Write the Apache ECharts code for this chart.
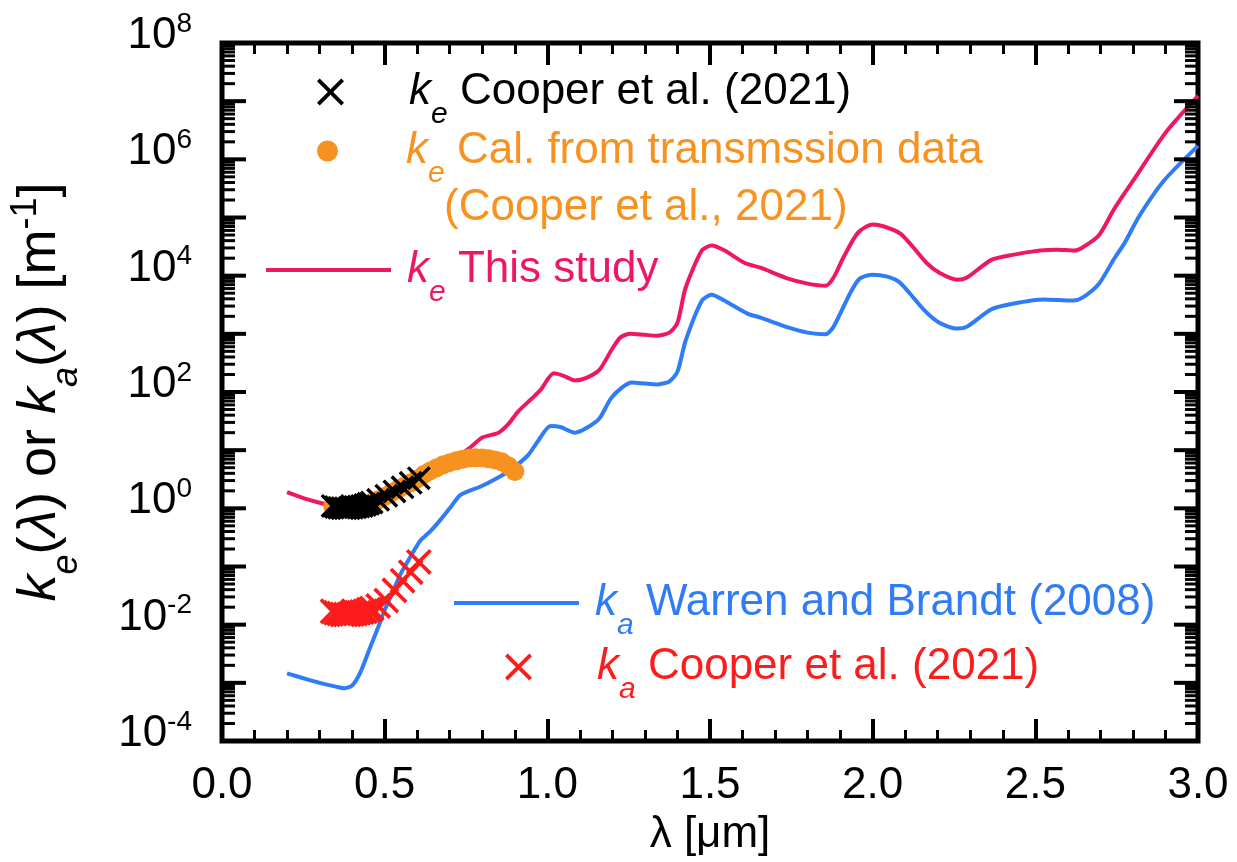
<!DOCTYPE html>
<html><head><meta charset="utf-8">
<script src="https://cdn.jsdelivr.net/npm/echarts@6/dist/echarts.min.js"></script>
<style>html,body{margin:0;padding:0;background:#fff}#c{width:1237px;height:862px}</style>
</head><body><div id="c"></div>
<script>
const FONT = '"Liberation Sans", Arial, Helvetica, sans-serif';

// k_e This study (pink line): wavelength [um], value [m^-1]
const keThisLambda = [0.20,0.25,0.30,0.35,0.40,0.45,0.50,0.55,0.60,0.65,0.70,0.75,0.77,0.80,0.85,0.88,0.91,0.95,0.98,1.02,1.05,1.085,1.12,1.16,1.20,1.225,1.255,1.30,1.335,1.375,1.40,1.425,1.475,1.505,1.545,1.605,1.655,1.74,1.80,1.855,1.88,1.91,1.955,2.00,2.035,2.085,2.12,2.165,2.205,2.26,2.29,2.365,2.43,2.515,2.565,2.62,2.645,2.695,2.74,2.775,2.80,2.90,3.00];
const keThisValue  = [1.9,1.5,1.25,1.08,1.02,1.12,1.45,2.0,2.9,4.2,6.3,9.8,12,16.5,20,28,46,75,110,210,190,158,175,240,560,870,1000,960,930,1050,1550,6200,27000,33000,27000,16700,13700,8900,7300,6700,9300,20500,55000,76000,70000,53000,33000,16700,11200,8500,9300,18700,22800,27000,28000,27000,30500,49000,133000,265000,425000,2.85e6,1.23e7];

// k_a Warren and Brandt (2008) (blue line)
const kaWBLambda = [0.20,0.25,0.30,0.35,0.375,0.40,0.425,0.455,0.48,0.50,0.525,0.547,0.58,0.61,0.64,0.67,0.70,0.73,0.76,0.79,0.845,0.885,0.94,0.97,1.01,1.04,1.085,1.12,1.16,1.195,1.23,1.26,1.30,1.335,1.375,1.40,1.425,1.475,1.505,1.545,1.615,1.655,1.74,1.80,1.855,1.88,1.93,1.96,2.00,2.045,2.085,2.16,2.205,2.26,2.29,2.365,2.43,2.525,2.615,2.645,2.695,2.74,2.775,2.82,2.895,3.00];
const kaWBValue  = [1.45e-3,1.2e-3,1.0e-3,8.6e-4,8.1e-4,9.0e-4,1.5e-3,4.0e-3,9.0e-3,0.0178,0.036,0.071,0.15,0.28,0.40,0.62,1.0,1.65,2.0,2.3,3.3,4.5,8.1,14,26,25,20,24,35,77,120,146,140,135,152,224,760,3700,4700,3700,2230,1900,1290,1050,980,1330,4900,8900,10400,9600,7500,2500,1550,1230,1330,2650,3300,3900,3730,4200,7200,18600,37000,107000,427000,1.7e6];

// k_e Cooper et al. (2021) (black crosses)
const keCooperLambda = [0.34,0.35,0.36,0.37,0.38,0.39,0.40,0.41,0.42,0.43,0.44,0.45,0.46,0.48,0.505,0.53,0.555,0.58,0.605];
const keCooperValue  = [1.1,1.05,1.02,1.0,1.0,1.0,1.02,1.04,1.07,1.1,1.14,1.2,1.26,1.4,1.65,1.95,2.3,2.75,3.3];

// k_e calculated from transmission data (orange dots)
const keCalLambda = [0.34,0.36,0.38,0.40,0.42,0.44,0.46,0.48,0.50,0.52,0.54,0.56,0.58,0.60,0.62,0.64,0.66,0.68,0.70,0.72,0.74,0.76,0.78,0.80,0.82,0.84,0.86,0.88,0.90];
const keCalValue  = [1.1,1.05,1.0,1.02,1.07,1.14,1.26,1.4,1.6,1.85,2.1,2.4,2.75,3.2,3.8,4.4,5.0,5.6,6.1,6.6,7.0,7.3,7.4,7.3,7.1,6.8,6.3,5.4,4.3];

// k_a Cooper et al. (2021) (red crosses)
const kaCooperLambda = [0.34,0.35,0.36,0.37,0.38,0.39,0.40,0.41,0.42,0.43,0.44,0.45,0.46,0.48,0.505,0.53,0.555,0.58,0.605];
const kaCooperValue  = [0.017,0.016,0.0155,0.015,0.015,0.015,0.0152,0.0155,0.016,0.0165,0.017,0.018,0.019,0.021,0.026,0.039,0.057,0.08,0.12];

// axis ticks
const yLabelExponents = [-4,-2,0,2,4,6,8];
const yDecadeExponents = [-4,-3,-2,-1,0,1,2,3,4,5,6,7,8];
const yMinorMantissas = [2,3,4,5,6,7,8,9];

const C_PINK = '#ee1766', C_BLUE = '#2f7cf6', C_ORANGE = '#f7911f', C_RED = '#fc1c1c';
const CROSS = 'path://M2,0L10,8L18,0L20,2L12,10L20,18L18,20L10,12L2,20L0,18L8,10L0,2Z';

const zip = (a, b) => a.map((v, i) => [v, b[i]]);

const yTickData = [];
yDecadeExponents.forEach(e => {
  yTickData.push([0, Math.pow(10, e), 1]);
  if (e < 8) yMinorMantissas.forEach(m => yTickData.push([0, m * Math.pow(10, e), 0]));
});
const yLabelData = yLabelExponents.map(e => [0, Math.pow(10, e), e]);

const legendRich = {
  k: {fontFamily: FONT, fontSize: 44, fontStyle: 'italic', lineHeight: 50, padding: [0, 0, 0, 11]},
  s: {fontFamily: FONT, fontSize: 30, fontStyle: 'italic', lineHeight: 30, verticalAlign: 'bottom', padding: [0, 0, -13, 0]},
  t: {fontFamily: FONT, fontSize: 44, lineHeight: 50}
};
function mkLegend(name, left, top, color, text, ih, icon) {
  const l = {
    data: [name], left: left, top: top, padding: 0, itemWidth: 125, itemHeight: ih,
    selectedMode: false, orient: 'vertical',
    formatter: () => text,
    textStyle: {color: color, fontFamily: FONT, fontSize: 44, lineHeight: 50, rich: legendRich}
  };
  if (icon) l.icon = icon;
  return l;
}

const chart = echarts.init(document.getElementById('c'), null, {renderer: 'canvas'});
const xAxisBase = {
  type: 'value', min: 0, max: 3, interval: 0.5,
  axisLine: {show: false},
  axisTick: {show: true, inside: true, length: 22, lineStyle: {color: '#000', width: 4}},
  minorTick: {show: true, splitNumber: 5, length: 11, lineStyle: {color: '#000', width: 3}},
  splitLine: {show: false}, minorSplitLine: {show: false}
};
chart.setOption({
  animation: false,
  grid: {left: 222, right: 39, top: 43, bottom: 121, show: true, borderColor: '#000', borderWidth: 5, backgroundColor: 'transparent'},
  xAxis: [
    Object.assign({}, xAxisBase, {
      position: 'bottom',
      axisLabel: {show: true, fontSize: 44, fontFamily: FONT, color: '#000', margin: 23, formatter: v => v.toFixed(1)},
      name: 'λ [μm]', nameLocation: 'middle', nameGap: 64,
      nameTextStyle: {fontSize: 44, fontFamily: FONT, color: '#000'}
    }),
    Object.assign({}, xAxisBase, {position: 'top', axisLabel: {show: false}})
  ],
  yAxis: {
    type: 'log', logBase: 10, min: 1e-4, max: 1e8,
    axisLine: {show: false}, axisTick: {show: false}, axisLabel: {show: false}, splitLine: {show: false},
    name: '{k|k}{s|e}{t|(}{l|λ}{t|) or }{k|k}{s|a}{t|(}{l|λ}{t|) [m}{p|-1}{t|]}',
    nameLocation: 'middle', nameRotate: 90, nameGap: 152,
    nameTextStyle: {fontSize: 54, fontFamily: FONT, color: '#000', rich: {
      k: {fontFamily: FONT, fontSize: 54, fontStyle: 'italic', lineHeight: 60},
      l: {fontFamily: FONT, fontSize: 54, fontStyle: 'italic', lineHeight: 60},
      t: {fontFamily: FONT, fontSize: 54, lineHeight: 60},
      s: {fontFamily: FONT, fontSize: 36, fontStyle: 'italic', lineHeight: 36, verticalAlign: 'bottom', padding: [0, 0, -15, 0]},
      p: {fontFamily: FONT, fontSize: 36, lineHeight: 36, verticalAlign: 'top', padding: [-2, 0, 0, 0]}
    }}
  },
  legend: [
    mkLegend('keCooper', 317, 67, '#000', '{k|k}{s|e}{t| Cooper et al. (2021)}', 27),
    mkLegend('keCal', 317, 126, C_ORANGE, '{k|k}{s|e}{t| Cal. from transmssion data}', 21),
    mkLegend('keThis', 266, 245, C_PINK, '{k|k}{s|e}{t| This study}', 4, 'rect'),
    mkLegend('kaWB', 454, 578, C_BLUE, '{k|k}{s|a}{t| Warren and Brandt (2008)}', 4, 'rect'),
    mkLegend('kaCooper', 505, 642, C_RED, '{k|k}{s|a}{t| Cooper et al. (2021)}', 27)
  ],
  graphic: [{
    type: 'text', left: 444, top: 186,
    style: {text: '(Cooper et al., 2021)', font: '44px ' + FONT, fill: C_ORANGE}
  }],
  series: [
    {name: 'keThis', type: 'line', data: zip(keThisLambda, keThisValue), symbol: 'none', smooth: 0.25,
     lineStyle: {color: C_PINK, width: 4}, itemStyle: {color: C_PINK}, z: 2},
    {name: 'kaWB', type: 'line', data: zip(kaWBLambda, kaWBValue), symbol: 'none', smooth: 0.25,
     lineStyle: {color: C_BLUE, width: 4}, itemStyle: {color: C_BLUE}, z: 2},
    {name: 'keCal', type: 'scatter', data: zip(keCalLambda, keCalValue), symbol: 'circle', symbolSize: 19,
     itemStyle: {color: C_ORANGE, opacity: 1}, z: 3},
    {name: 'keCooper', type: 'scatter', data: zip(keCooperLambda, keCooperValue), symbol: CROSS, symbolSize: 24,
     itemStyle: {color: '#000', opacity: 1}, z: 4},
    {name: 'kaCooper', type: 'scatter', data: zip(kaCooperLambda, kaCooperValue), symbol: CROSS, symbolSize: 26,
     itemStyle: {color: C_RED, opacity: 1}, z: 4},
    {name: 'yTicks', type: 'custom', data: yTickData, silent: true, z: 5,
     renderItem: function (params, api) {
       const v = api.value(1), major = api.value(2) === 1;
       const pL = api.coord([0, v]), pR = api.coord([3, v]);
       const len = major ? 24 : 13, lw = major ? 4 : 3;
       return {type: 'group', children: [
         {type: 'line', shape: {x1: pL[0], y1: pL[1], x2: pL[0] + len, y2: pL[1]}, style: {stroke: '#000', lineWidth: lw}},
         {type: 'line', shape: {x1: pR[0] - len, y1: pR[1], x2: pR[0], y2: pR[1]}, style: {stroke: '#000', lineWidth: lw}}
       ]};
     }},
    {name: 'yLabels', type: 'custom', data: yLabelData, silent: true, z: 5,
     renderItem: function (params, api) {
       const v = api.value(1), e = api.value(2);
       const p = api.coord([0, v]);
       return {type: 'text', x: p[0] - 30, y: p[1] - 7, style: {
         text: '{b|10}{s|' + e + '}', align: 'right', verticalAlign: 'middle', fill: '#000',
         rich: {
           b: {fontFamily: FONT, fontSize: 44, lineHeight: 44, fill: '#000'},
           s: {fontFamily: FONT, fontSize: 28, lineHeight: 28, verticalAlign: 'top', padding: [-4, 0, 0, 0], fill: '#000'}
         }
       }};
     }}
  ]
});
</script></body></html>
